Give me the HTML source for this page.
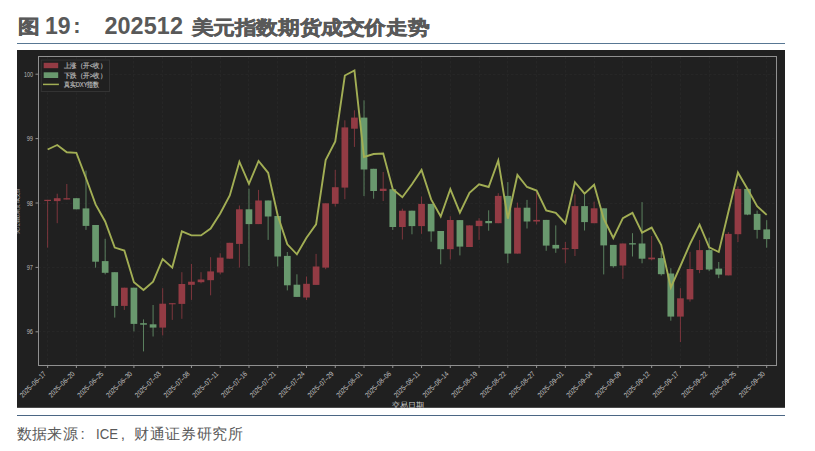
<!DOCTYPE html>
<html><head><meta charset="utf-8"><style>
html,body{margin:0;padding:0;background:#fff;width:815px;height:451px;overflow:hidden}
body{position:relative;font-family:"Liberation Sans",sans-serif}
.title{position:absolute;left:18px;top:13px;font-size:21.5px;font-weight:bold;color:#595959;white-space:pre;line-height:26px}
.cjk{transform:scaleY(0.875);transform-origin:0 0;-webkit-text-stroke:0.6px #595959;font-size:21.8px}
.rule{position:absolute;left:17px;width:768px;height:1.3px;background:#55738f}
.src{position:absolute;left:17px;top:423px;font-size:15.5px;color:#595959;white-space:pre;line-height:20px}
svg{position:absolute;left:0;top:0}
</style></head><body>
<div class="title cjk" style="left:17.6px;top:14.8px">图</div><div class="title" style="left:45px;font-size:23px">19</div><div class="title" style="left:73.3px;font-size:22px">:</div><div class="title" style="left:104.4px;font-size:23.4px;letter-spacing:0.1px">202512</div><div class="title cjk" style="left:191.5px;top:15.5px;letter-spacing:-0.4px">美元指数期货成交价走势</div>
<div class="rule" style="top:42.9px;background:#587793"></div>
<div class="rule" style="top:414.8px;background:#4b6684"></div>
<svg width="815" height="451" viewBox="0 0 815 451" font-family="Liberation Sans, sans-serif">
<defs><clipPath id="dk"><rect x="17" y="50" width="768" height="357.8"/></clipPath></defs>
<rect x="17" y="50" width="768" height="357.8" fill="#202020"/>
<g stroke="#262626" stroke-width="1" stroke-dasharray="2.5,2"><line x1="38.5" y1="74.5" x2="776.5" y2="74.5"/><line x1="38.5" y1="138.5" x2="776.5" y2="138.5"/><line x1="38.5" y1="203.5" x2="776.5" y2="203.5"/><line x1="38.5" y1="267.5" x2="776.5" y2="267.5"/><line x1="38.5" y1="331.5" x2="776.5" y2="331.5"/><line x1="47.5" y1="56.5" x2="47.5" y2="365.5"/><line x1="76.5" y1="56.5" x2="76.5" y2="365.5"/><line x1="105.5" y1="56.5" x2="105.5" y2="365.5"/><line x1="133.5" y1="56.5" x2="133.5" y2="365.5"/><line x1="162.5" y1="56.5" x2="162.5" y2="365.5"/><line x1="191.5" y1="56.5" x2="191.5" y2="365.5"/><line x1="220.5" y1="56.5" x2="220.5" y2="365.5"/><line x1="248.5" y1="56.5" x2="248.5" y2="365.5"/><line x1="277.5" y1="56.5" x2="277.5" y2="365.5"/><line x1="306.5" y1="56.5" x2="306.5" y2="365.5"/><line x1="335.5" y1="56.5" x2="335.5" y2="365.5"/><line x1="364.5" y1="56.5" x2="364.5" y2="365.5"/><line x1="392.5" y1="56.5" x2="392.5" y2="365.5"/><line x1="421.5" y1="56.5" x2="421.5" y2="365.5"/><line x1="450.5" y1="56.5" x2="450.5" y2="365.5"/><line x1="479.5" y1="56.5" x2="479.5" y2="365.5"/><line x1="507.5" y1="56.5" x2="507.5" y2="365.5"/><line x1="536.5" y1="56.5" x2="536.5" y2="365.5"/><line x1="565.5" y1="56.5" x2="565.5" y2="365.5"/><line x1="594.5" y1="56.5" x2="594.5" y2="365.5"/><line x1="622.5" y1="56.5" x2="622.5" y2="365.5"/><line x1="651.5" y1="56.5" x2="651.5" y2="365.5"/><line x1="680.5" y1="56.5" x2="680.5" y2="365.5"/><line x1="709.5" y1="56.5" x2="709.5" y2="365.5"/><line x1="737.5" y1="56.5" x2="737.5" y2="365.5"/><line x1="766.5" y1="56.5" x2="766.5" y2="365.5"/></g>
<line x1="47.63" y1="199.8" x2="47.63" y2="247.6" stroke="#933b44" stroke-width="1" stroke-opacity="0.8"/><rect x="44.28" y="199.8" width="6.7" height="1.20" fill="#933b44"/><line x1="57.22" y1="193.7" x2="57.22" y2="223.2" stroke="#933b44" stroke-width="1" stroke-opacity="0.8"/><rect x="53.87" y="198.2" width="6.7" height="2.90" fill="#933b44"/><line x1="66.81" y1="184.0" x2="66.81" y2="199.5" stroke="#933b44" stroke-width="1" stroke-opacity="0.8"/><rect x="63.46" y="198.2" width="6.7" height="1.30" fill="#933b44"/><line x1="76.39" y1="198.2" x2="76.39" y2="209.3" stroke="#69996e" stroke-width="1" stroke-opacity="0.8"/><rect x="73.04" y="198.2" width="6.7" height="11.10" fill="#69996e"/><line x1="85.98" y1="170.6" x2="85.98" y2="229.9" stroke="#69996e" stroke-width="1" stroke-opacity="0.8"/><rect x="82.63" y="208.4" width="6.7" height="17.50" fill="#69996e"/><line x1="95.57" y1="225.0" x2="95.57" y2="267.7" stroke="#69996e" stroke-width="1" stroke-opacity="0.8"/><rect x="92.22" y="225.0" width="6.7" height="36.70" fill="#69996e"/><line x1="105.16" y1="238.8" x2="105.16" y2="274.3" stroke="#69996e" stroke-width="1" stroke-opacity="0.8"/><rect x="101.81" y="261.1" width="6.7" height="11.70" fill="#69996e"/><line x1="114.74" y1="272.2" x2="114.74" y2="317.6" stroke="#69996e" stroke-width="1" stroke-opacity="0.8"/><rect x="111.39" y="272.2" width="6.7" height="33.70" fill="#69996e"/><line x1="124.33" y1="287.7" x2="124.33" y2="309.9" stroke="#933b44" stroke-width="1" stroke-opacity="0.8"/><rect x="120.98" y="287.7" width="6.7" height="18.20" fill="#933b44"/><line x1="133.92" y1="287.7" x2="133.92" y2="331.4" stroke="#69996e" stroke-width="1" stroke-opacity="0.8"/><rect x="130.57" y="287.7" width="6.7" height="36.20" fill="#69996e"/><line x1="143.51" y1="319.4" x2="143.51" y2="351.4" stroke="#69996e" stroke-width="1" stroke-opacity="0.8"/><rect x="140.16" y="323.2" width="6.7" height="1.50" fill="#69996e"/><line x1="153.09" y1="305.0" x2="153.09" y2="336.5" stroke="#69996e" stroke-width="1" stroke-opacity="0.8"/><rect x="149.74" y="324.3" width="6.7" height="3.30" fill="#69996e"/><line x1="162.68" y1="288.2" x2="162.68" y2="335.4" stroke="#933b44" stroke-width="1" stroke-opacity="0.8"/><rect x="159.33" y="303.7" width="6.7" height="23.90" fill="#933b44"/><line x1="172.27" y1="303.2" x2="172.27" y2="319.9" stroke="#933b44" stroke-width="1" stroke-opacity="0.8"/><rect x="168.92" y="303.2" width="6.7" height="1.10" fill="#933b44"/><line x1="181.86" y1="272.2" x2="181.86" y2="318.8" stroke="#933b44" stroke-width="1" stroke-opacity="0.8"/><rect x="178.51" y="284.0" width="6.7" height="19.90" fill="#933b44"/><line x1="191.44" y1="264.0" x2="191.44" y2="299.9" stroke="#933b44" stroke-width="1" stroke-opacity="0.8"/><rect x="188.09" y="281.7" width="6.7" height="3.10" fill="#933b44"/><line x1="201.03" y1="272.2" x2="201.03" y2="283.3" stroke="#933b44" stroke-width="1" stroke-opacity="0.8"/><rect x="197.68" y="279.5" width="6.7" height="2.70" fill="#933b44"/><line x1="210.62" y1="257.2" x2="210.62" y2="295.3" stroke="#933b44" stroke-width="1" stroke-opacity="0.8"/><rect x="207.27" y="271.4" width="6.7" height="8.80" fill="#933b44"/><line x1="220.21" y1="253.2" x2="220.21" y2="274.3" stroke="#933b44" stroke-width="1" stroke-opacity="0.8"/><rect x="216.86" y="257.6" width="6.7" height="14.90" fill="#933b44"/><line x1="229.79" y1="242.8" x2="229.79" y2="258.7" stroke="#933b44" stroke-width="1" stroke-opacity="0.8"/><rect x="226.44" y="242.8" width="6.7" height="15.90" fill="#933b44"/><line x1="239.38" y1="205.5" x2="239.38" y2="267.6" stroke="#933b44" stroke-width="1" stroke-opacity="0.8"/><rect x="236.03" y="209.3" width="6.7" height="34.60" fill="#933b44"/><line x1="248.97" y1="188.7" x2="248.97" y2="266.0" stroke="#69996e" stroke-width="1" stroke-opacity="0.8"/><rect x="245.62" y="209.3" width="6.7" height="14.80" fill="#69996e"/><line x1="258.56" y1="189.9" x2="258.56" y2="224.1" stroke="#933b44" stroke-width="1" stroke-opacity="0.8"/><rect x="255.21" y="200.5" width="6.7" height="23.60" fill="#933b44"/><line x1="268.14" y1="200.5" x2="268.14" y2="239.9" stroke="#69996e" stroke-width="1" stroke-opacity="0.8"/><rect x="264.79" y="200.5" width="6.7" height="16.00" fill="#69996e"/><line x1="277.73" y1="216.0" x2="277.73" y2="266.5" stroke="#69996e" stroke-width="1" stroke-opacity="0.8"/><rect x="274.38" y="216.0" width="6.7" height="40.50" fill="#69996e"/><line x1="287.32" y1="252.0" x2="287.32" y2="290.4" stroke="#69996e" stroke-width="1" stroke-opacity="0.8"/><rect x="283.97" y="255.9" width="6.7" height="29.40" fill="#69996e"/><line x1="296.91" y1="274.3" x2="296.91" y2="296.9" stroke="#69996e" stroke-width="1" stroke-opacity="0.8"/><rect x="293.56" y="284.7" width="6.7" height="12.20" fill="#69996e"/><line x1="306.50" y1="276.5" x2="306.50" y2="300.0" stroke="#933b44" stroke-width="1" stroke-opacity="0.8"/><rect x="303.15" y="283.8" width="6.7" height="13.70" fill="#933b44"/><line x1="316.08" y1="253.9" x2="316.08" y2="284.9" stroke="#933b44" stroke-width="1" stroke-opacity="0.8"/><rect x="312.73" y="266.5" width="6.7" height="18.40" fill="#933b44"/><line x1="325.67" y1="203.3" x2="325.67" y2="269.2" stroke="#933b44" stroke-width="1" stroke-opacity="0.8"/><rect x="322.32" y="203.3" width="6.7" height="64.30" fill="#933b44"/><line x1="335.26" y1="169.9" x2="335.26" y2="206.5" stroke="#933b44" stroke-width="1" stroke-opacity="0.8"/><rect x="331.91" y="187.2" width="6.7" height="16.60" fill="#933b44"/><line x1="344.85" y1="120.3" x2="344.85" y2="199.2" stroke="#933b44" stroke-width="1" stroke-opacity="0.8"/><rect x="341.50" y="127.4" width="6.7" height="60.20" fill="#933b44"/><line x1="354.43" y1="110.3" x2="354.43" y2="146.9" stroke="#933b44" stroke-width="1" stroke-opacity="0.8"/><rect x="351.08" y="117.6" width="6.7" height="11.10" fill="#933b44"/><line x1="364.02" y1="100.3" x2="364.02" y2="196.1" stroke="#69996e" stroke-width="1" stroke-opacity="0.8"/><rect x="360.67" y="117.6" width="6.7" height="51.90" fill="#69996e"/><line x1="373.61" y1="168.8" x2="373.61" y2="198.7" stroke="#69996e" stroke-width="1" stroke-opacity="0.8"/><rect x="370.26" y="168.8" width="6.7" height="22.20" fill="#69996e"/><line x1="383.20" y1="172.0" x2="383.20" y2="201.0" stroke="#933b44" stroke-width="1" stroke-opacity="0.8"/><rect x="379.85" y="188.7" width="6.7" height="2.30" fill="#933b44"/><line x1="392.78" y1="189.2" x2="392.78" y2="229.9" stroke="#69996e" stroke-width="1" stroke-opacity="0.8"/><rect x="389.43" y="189.2" width="6.7" height="37.80" fill="#69996e"/><line x1="402.37" y1="208.7" x2="402.37" y2="239.5" stroke="#933b44" stroke-width="1" stroke-opacity="0.8"/><rect x="399.02" y="210.7" width="6.7" height="16.30" fill="#933b44"/><line x1="411.96" y1="210.7" x2="411.96" y2="234.3" stroke="#69996e" stroke-width="1" stroke-opacity="0.8"/><rect x="408.61" y="210.7" width="6.7" height="15.40" fill="#69996e"/><line x1="421.55" y1="196.5" x2="421.55" y2="233.8" stroke="#933b44" stroke-width="1" stroke-opacity="0.8"/><rect x="418.20" y="203.9" width="6.7" height="22.20" fill="#933b44"/><line x1="431.13" y1="203.9" x2="431.13" y2="241.7" stroke="#69996e" stroke-width="1" stroke-opacity="0.8"/><rect x="427.78" y="203.9" width="6.7" height="27.50" fill="#69996e"/><line x1="440.72" y1="231.0" x2="440.72" y2="264.3" stroke="#69996e" stroke-width="1" stroke-opacity="0.8"/><rect x="437.37" y="231.0" width="6.7" height="18.20" fill="#69996e"/><line x1="450.31" y1="216.2" x2="450.31" y2="259.4" stroke="#933b44" stroke-width="1" stroke-opacity="0.8"/><rect x="446.96" y="220.0" width="6.7" height="29.20" fill="#933b44"/><line x1="459.90" y1="220.1" x2="459.90" y2="255.4" stroke="#69996e" stroke-width="1" stroke-opacity="0.8"/><rect x="456.55" y="220.1" width="6.7" height="26.50" fill="#69996e"/><line x1="469.48" y1="225.4" x2="469.48" y2="247.0" stroke="#933b44" stroke-width="1" stroke-opacity="0.8"/><rect x="466.13" y="225.4" width="6.7" height="21.60" fill="#933b44"/><line x1="479.07" y1="218.2" x2="479.07" y2="239.9" stroke="#933b44" stroke-width="1" stroke-opacity="0.8"/><rect x="475.72" y="220.7" width="6.7" height="5.40" fill="#933b44"/><line x1="488.66" y1="210.3" x2="488.66" y2="230.7" stroke="#69996e" stroke-width="1" stroke-opacity="0.8"/><rect x="485.31" y="221.0" width="6.7" height="2.20" fill="#69996e"/><line x1="498.25" y1="193.2" x2="498.25" y2="223.2" stroke="#933b44" stroke-width="1" stroke-opacity="0.8"/><rect x="494.90" y="195.9" width="6.7" height="27.30" fill="#933b44"/><line x1="507.83" y1="182.1" x2="507.83" y2="263.2" stroke="#69996e" stroke-width="1" stroke-opacity="0.8"/><rect x="504.48" y="195.9" width="6.7" height="57.70" fill="#69996e"/><line x1="517.42" y1="202.6" x2="517.42" y2="253.6" stroke="#933b44" stroke-width="1" stroke-opacity="0.8"/><rect x="514.07" y="207.7" width="6.7" height="45.90" fill="#933b44"/><line x1="527.01" y1="199.9" x2="527.01" y2="228.5" stroke="#69996e" stroke-width="1" stroke-opacity="0.8"/><rect x="523.66" y="207.7" width="6.7" height="13.80" fill="#69996e"/><line x1="536.60" y1="192.1" x2="536.60" y2="224.4" stroke="#933b44" stroke-width="1" stroke-opacity="0.8"/><rect x="533.25" y="219.9" width="6.7" height="1.60" fill="#933b44"/><line x1="546.19" y1="219.9" x2="546.19" y2="250.8" stroke="#69996e" stroke-width="1" stroke-opacity="0.8"/><rect x="542.84" y="219.9" width="6.7" height="25.70" fill="#69996e"/><line x1="555.77" y1="225.4" x2="555.77" y2="252.8" stroke="#69996e" stroke-width="1" stroke-opacity="0.8"/><rect x="552.42" y="244.9" width="6.7" height="3.60" fill="#69996e"/><line x1="565.36" y1="242.0" x2="565.36" y2="263.3" stroke="#933b44" stroke-width="1" stroke-opacity="0.8"/><rect x="562.01" y="248.3" width="6.7" height="1.00" fill="#933b44"/><line x1="574.95" y1="194.4" x2="574.95" y2="256.0" stroke="#933b44" stroke-width="1" stroke-opacity="0.8"/><rect x="571.60" y="206.1" width="6.7" height="42.90" fill="#933b44"/><line x1="584.54" y1="194.4" x2="584.54" y2="230.5" stroke="#69996e" stroke-width="1" stroke-opacity="0.8"/><rect x="581.19" y="206.1" width="6.7" height="16.00" fill="#69996e"/><line x1="594.12" y1="201.7" x2="594.12" y2="223.2" stroke="#933b44" stroke-width="1" stroke-opacity="0.8"/><rect x="590.77" y="208.3" width="6.7" height="14.90" fill="#933b44"/><line x1="603.71" y1="208.3" x2="603.71" y2="274.4" stroke="#69996e" stroke-width="1" stroke-opacity="0.8"/><rect x="600.36" y="208.3" width="6.7" height="37.10" fill="#69996e"/><line x1="613.30" y1="244.9" x2="613.30" y2="267.7" stroke="#69996e" stroke-width="1" stroke-opacity="0.8"/><rect x="609.95" y="244.9" width="6.7" height="21.30" fill="#69996e"/><line x1="622.89" y1="243.5" x2="622.89" y2="278.8" stroke="#933b44" stroke-width="1" stroke-opacity="0.8"/><rect x="619.54" y="243.5" width="6.7" height="22.00" fill="#933b44"/><line x1="632.47" y1="233.2" x2="632.47" y2="256.5" stroke="#69996e" stroke-width="1" stroke-opacity="0.8"/><rect x="629.12" y="243.2" width="6.7" height="1.30" fill="#69996e"/><line x1="642.06" y1="202.1" x2="642.06" y2="263.3" stroke="#69996e" stroke-width="1" stroke-opacity="0.8"/><rect x="638.71" y="243.5" width="6.7" height="15.20" fill="#69996e"/><line x1="651.65" y1="236.0" x2="651.65" y2="260.3" stroke="#933b44" stroke-width="1" stroke-opacity="0.8"/><rect x="648.30" y="257.6" width="6.7" height="1.70" fill="#933b44"/><line x1="661.24" y1="250.8" x2="661.24" y2="275.6" stroke="#69996e" stroke-width="1" stroke-opacity="0.8"/><rect x="657.89" y="258.1" width="6.7" height="16.10" fill="#69996e"/><line x1="670.82" y1="268.2" x2="670.82" y2="320.7" stroke="#69996e" stroke-width="1" stroke-opacity="0.8"/><rect x="667.47" y="273.5" width="6.7" height="43.10" fill="#69996e"/><line x1="680.41" y1="288.2" x2="680.41" y2="342.0" stroke="#933b44" stroke-width="1" stroke-opacity="0.8"/><rect x="677.06" y="298.3" width="6.7" height="18.30" fill="#933b44"/><line x1="690.00" y1="251.8" x2="690.00" y2="301.6" stroke="#933b44" stroke-width="1" stroke-opacity="0.8"/><rect x="686.65" y="269.0" width="6.7" height="30.40" fill="#933b44"/><line x1="699.59" y1="240.0" x2="699.59" y2="273.2" stroke="#933b44" stroke-width="1" stroke-opacity="0.8"/><rect x="696.24" y="250.1" width="6.7" height="19.90" fill="#933b44"/><line x1="709.17" y1="237.7" x2="709.17" y2="271.2" stroke="#69996e" stroke-width="1" stroke-opacity="0.8"/><rect x="705.82" y="250.1" width="6.7" height="19.40" fill="#69996e"/><line x1="718.76" y1="262.0" x2="718.76" y2="278.2" stroke="#69996e" stroke-width="1" stroke-opacity="0.8"/><rect x="715.41" y="268.6" width="6.7" height="6.00" fill="#69996e"/><line x1="728.35" y1="232.1" x2="728.35" y2="275.4" stroke="#933b44" stroke-width="1" stroke-opacity="0.8"/><rect x="725.00" y="233.9" width="6.7" height="41.50" fill="#933b44"/><line x1="737.94" y1="186.3" x2="737.94" y2="242.0" stroke="#933b44" stroke-width="1" stroke-opacity="0.8"/><rect x="734.59" y="188.9" width="6.7" height="45.30" fill="#933b44"/><line x1="747.52" y1="188.9" x2="747.52" y2="215.2" stroke="#69996e" stroke-width="1" stroke-opacity="0.8"/><rect x="744.17" y="188.9" width="6.7" height="25.70" fill="#69996e"/><line x1="757.11" y1="210.6" x2="757.11" y2="238.6" stroke="#69996e" stroke-width="1" stroke-opacity="0.8"/><rect x="753.76" y="213.9" width="6.7" height="16.00" fill="#69996e"/><line x1="766.70" y1="220.2" x2="766.70" y2="247.7" stroke="#69996e" stroke-width="1" stroke-opacity="0.8"/><rect x="763.35" y="229.4" width="6.7" height="9.70" fill="#69996e"/>
<polyline points="47.63,149.5 57.22,145 66.81,152.2 76.39,152.8 85.98,178 95.57,204.4 105.16,221.5 114.74,247.6 124.33,250.5 133.92,282.2 143.51,290 153.09,281.7 162.68,259 172.27,267.6 181.86,231.4 191.44,235.4 201.03,235.4 210.62,228.5 220.21,213.5 229.79,195.4 239.38,161.7 248.97,183.9 258.56,161 268.14,172.8 277.73,215.5 287.32,244.3 296.91,254.3 306.50,237.7 316.08,224.4 325.67,160 335.26,141.5 344.85,75.5 354.43,70.4 364.02,157 373.61,154 383.20,153.5 392.78,189.2 402.37,197.2 411.96,184.3 421.55,169.9 431.13,199.4 440.72,216.5 450.31,189.2 459.90,212.7 469.48,192.8 479.07,184.3 488.66,187 498.25,160.4 507.83,218.7 517.42,175 527.01,187 536.60,190.5 546.19,210.5 555.77,212.8 565.36,223.2 574.95,182.2 584.54,193.7 594.12,184.8 603.71,218.7 613.30,238 622.89,218.1 632.47,212.8 642.06,232.7 651.65,227.6 661.24,245 670.82,287.5 680.41,266 690.00,244 699.59,224.7 709.17,247.4 718.76,252 728.35,212 737.94,172.5 747.52,188.9 757.11,206.2 766.70,214.9" fill="none" stroke="#a2ae54" stroke-width="1.9" stroke-linejoin="miter"/>
<rect x="38.5" y="56.5" width="738.00" height="309.00" fill="none" stroke="#909090" stroke-width="1"/>
<g font-size="7" fill="#b8b8b8"><line x1="35.5" y1="74.2" x2="38.5" y2="74.2" stroke="#909090" stroke-width="1"/><text x="33.0" y="76.7" text-anchor="end" textLength="9.1" lengthAdjust="spacingAndGlyphs">100</text><line x1="35.5" y1="138.6" x2="38.5" y2="138.6" stroke="#909090" stroke-width="1"/><text x="33.0" y="141.1" text-anchor="end" textLength="6.3" lengthAdjust="spacingAndGlyphs">99</text><line x1="35.5" y1="203.0" x2="38.5" y2="203.0" stroke="#909090" stroke-width="1"/><text x="33.0" y="205.5" text-anchor="end" textLength="6.3" lengthAdjust="spacingAndGlyphs">98</text><line x1="35.5" y1="267.4" x2="38.5" y2="267.4" stroke="#909090" stroke-width="1"/><text x="33.0" y="269.9" text-anchor="end" textLength="6.3" lengthAdjust="spacingAndGlyphs">97</text><line x1="35.5" y1="331.8" x2="38.5" y2="331.8" stroke="#909090" stroke-width="1"/><text x="33.0" y="334.3" text-anchor="end" textLength="6.3" lengthAdjust="spacingAndGlyphs">96</text></g>
<g font-size="7.2" fill="#c4c4c4"><line x1="47.63" y1="365.5" x2="47.63" y2="368.0" stroke="#909090" stroke-width="1"/><text transform="translate(42.83,370.8) rotate(-45)" text-anchor="end" dy="5" textLength="33.4" lengthAdjust="spacingAndGlyphs">2025–06–17</text><line x1="76.39" y1="365.5" x2="76.39" y2="368.0" stroke="#909090" stroke-width="1"/><text transform="translate(71.59,370.8) rotate(-45)" text-anchor="end" dy="5" textLength="33.4" lengthAdjust="spacingAndGlyphs">2025–06–20</text><line x1="105.16" y1="365.5" x2="105.16" y2="368.0" stroke="#909090" stroke-width="1"/><text transform="translate(100.36,370.8) rotate(-45)" text-anchor="end" dy="5" textLength="33.4" lengthAdjust="spacingAndGlyphs">2025–06–25</text><line x1="133.92" y1="365.5" x2="133.92" y2="368.0" stroke="#909090" stroke-width="1"/><text transform="translate(129.12,370.8) rotate(-45)" text-anchor="end" dy="5" textLength="33.4" lengthAdjust="spacingAndGlyphs">2025–06–30</text><line x1="162.68" y1="365.5" x2="162.68" y2="368.0" stroke="#909090" stroke-width="1"/><text transform="translate(157.88,370.8) rotate(-45)" text-anchor="end" dy="5" textLength="33.4" lengthAdjust="spacingAndGlyphs">2025–07–03</text><line x1="191.44" y1="365.5" x2="191.44" y2="368.0" stroke="#909090" stroke-width="1"/><text transform="translate(186.64,370.8) rotate(-45)" text-anchor="end" dy="5" textLength="33.4" lengthAdjust="spacingAndGlyphs">2025–07–08</text><line x1="220.21" y1="365.5" x2="220.21" y2="368.0" stroke="#909090" stroke-width="1"/><text transform="translate(215.41,370.8) rotate(-45)" text-anchor="end" dy="5" textLength="33.4" lengthAdjust="spacingAndGlyphs">2025–07–11</text><line x1="248.97" y1="365.5" x2="248.97" y2="368.0" stroke="#909090" stroke-width="1"/><text transform="translate(244.17,370.8) rotate(-45)" text-anchor="end" dy="5" textLength="33.4" lengthAdjust="spacingAndGlyphs">2025–07–16</text><line x1="277.73" y1="365.5" x2="277.73" y2="368.0" stroke="#909090" stroke-width="1"/><text transform="translate(272.93,370.8) rotate(-45)" text-anchor="end" dy="5" textLength="33.4" lengthAdjust="spacingAndGlyphs">2025–07–21</text><line x1="306.50" y1="365.5" x2="306.50" y2="368.0" stroke="#909090" stroke-width="1"/><text transform="translate(301.70,370.8) rotate(-45)" text-anchor="end" dy="5" textLength="33.4" lengthAdjust="spacingAndGlyphs">2025–07–24</text><line x1="335.26" y1="365.5" x2="335.26" y2="368.0" stroke="#909090" stroke-width="1"/><text transform="translate(330.46,370.8) rotate(-45)" text-anchor="end" dy="5" textLength="33.4" lengthAdjust="spacingAndGlyphs">2025–07–29</text><line x1="364.02" y1="365.5" x2="364.02" y2="368.0" stroke="#909090" stroke-width="1"/><text transform="translate(359.22,370.8) rotate(-45)" text-anchor="end" dy="5" textLength="33.4" lengthAdjust="spacingAndGlyphs">2025–08–01</text><line x1="392.78" y1="365.5" x2="392.78" y2="368.0" stroke="#909090" stroke-width="1"/><text transform="translate(387.98,370.8) rotate(-45)" text-anchor="end" dy="5" textLength="33.4" lengthAdjust="spacingAndGlyphs">2025–08–06</text><line x1="421.55" y1="365.5" x2="421.55" y2="368.0" stroke="#909090" stroke-width="1"/><text transform="translate(416.75,370.8) rotate(-45)" text-anchor="end" dy="5" textLength="33.4" lengthAdjust="spacingAndGlyphs">2025–08–11</text><line x1="450.31" y1="365.5" x2="450.31" y2="368.0" stroke="#909090" stroke-width="1"/><text transform="translate(445.51,370.8) rotate(-45)" text-anchor="end" dy="5" textLength="33.4" lengthAdjust="spacingAndGlyphs">2025–08–14</text><line x1="479.07" y1="365.5" x2="479.07" y2="368.0" stroke="#909090" stroke-width="1"/><text transform="translate(474.27,370.8) rotate(-45)" text-anchor="end" dy="5" textLength="33.4" lengthAdjust="spacingAndGlyphs">2025–08–19</text><line x1="507.83" y1="365.5" x2="507.83" y2="368.0" stroke="#909090" stroke-width="1"/><text transform="translate(503.03,370.8) rotate(-45)" text-anchor="end" dy="5" textLength="33.4" lengthAdjust="spacingAndGlyphs">2025–08–22</text><line x1="536.60" y1="365.5" x2="536.60" y2="368.0" stroke="#909090" stroke-width="1"/><text transform="translate(531.80,370.8) rotate(-45)" text-anchor="end" dy="5" textLength="33.4" lengthAdjust="spacingAndGlyphs">2025–08–27</text><line x1="565.36" y1="365.5" x2="565.36" y2="368.0" stroke="#909090" stroke-width="1"/><text transform="translate(560.56,370.8) rotate(-45)" text-anchor="end" dy="5" textLength="33.4" lengthAdjust="spacingAndGlyphs">2025–09–01</text><line x1="594.12" y1="365.5" x2="594.12" y2="368.0" stroke="#909090" stroke-width="1"/><text transform="translate(589.32,370.8) rotate(-45)" text-anchor="end" dy="5" textLength="33.4" lengthAdjust="spacingAndGlyphs">2025–09–04</text><line x1="622.89" y1="365.5" x2="622.89" y2="368.0" stroke="#909090" stroke-width="1"/><text transform="translate(618.09,370.8) rotate(-45)" text-anchor="end" dy="5" textLength="33.4" lengthAdjust="spacingAndGlyphs">2025–09–09</text><line x1="651.65" y1="365.5" x2="651.65" y2="368.0" stroke="#909090" stroke-width="1"/><text transform="translate(646.85,370.8) rotate(-45)" text-anchor="end" dy="5" textLength="33.4" lengthAdjust="spacingAndGlyphs">2025–09–12</text><line x1="680.41" y1="365.5" x2="680.41" y2="368.0" stroke="#909090" stroke-width="1"/><text transform="translate(675.61,370.8) rotate(-45)" text-anchor="end" dy="5" textLength="33.4" lengthAdjust="spacingAndGlyphs">2025–09–17</text><line x1="709.17" y1="365.5" x2="709.17" y2="368.0" stroke="#909090" stroke-width="1"/><text transform="translate(704.37,370.8) rotate(-45)" text-anchor="end" dy="5" textLength="33.4" lengthAdjust="spacingAndGlyphs">2025–09–22</text><line x1="737.94" y1="365.5" x2="737.94" y2="368.0" stroke="#909090" stroke-width="1"/><text transform="translate(733.14,370.8) rotate(-45)" text-anchor="end" dy="5" textLength="33.4" lengthAdjust="spacingAndGlyphs">2025–09–25</text><line x1="766.70" y1="365.5" x2="766.70" y2="368.0" stroke="#909090" stroke-width="1"/><text transform="translate(761.90,370.8) rotate(-45)" text-anchor="end" dy="5" textLength="33.4" lengthAdjust="spacingAndGlyphs">2025–09–30</text></g>
<g font-size="6.8" fill="#c0c0c0">
<rect x="41.3" y="60.1" width="68.2" height="31.4" fill="#202020" stroke="#333" stroke-width="1"/>
<rect x="43.7" y="62.8" width="14.5" height="5.4" fill="#933b44"/>
<rect x="43.7" y="72.3" width="14.5" height="5.7" fill="#69996e"/>
<line x1="43" y1="84.4" x2="58.9" y2="84.4" stroke="#a2ae54" stroke-width="1.5"/>
<text stroke="#c0c0c0" stroke-width="0.15" x="63.9" y="68.0" textLength="42.3" lengthAdjust="spacingAndGlyphs">上涨（开&lt;收）</text>
<text stroke="#c0c0c0" stroke-width="0.15" x="63.9" y="77.5" textLength="42.3" lengthAdjust="spacingAndGlyphs">下跌（开&gt;收）</text>
<text stroke="#c0c0c0" stroke-width="0.15" x="63.9" y="87.2" textLength="35.4" lengthAdjust="spacingAndGlyphs">真实DXY指数</text>
</g>
<g font-size="15.3" fill="#5a5a5a"><text x="16.6 31.9 47.2 62.5" y="439">数据来源</text><text x="80.5" y="439">:</text><text x="96" y="439" textLength="22" lengthAdjust="spacingAndGlyphs">ICE</text><text x="120.8" y="439">,</text><text x="133.9 149.6 165.3 180.9 196.6 212.3 228.0" y="439">财通证券研究所</text></g>
<g clip-path="url(#dk)"><text x="407.6" y="407.5" font-size="7.8" fill="#d0d0d0" text-anchor="middle">交易日期</text></g>

<g clip-path="url(#dk)"><text transform="translate(19.3,211.2) rotate(-90)" font-size="6.3" fill="#b0b0b0" text-anchor="middle" textLength="46.5" lengthAdjust="spacingAndGlyphs">美元指数期货成交价</text></g>
</svg>

</body></html>
